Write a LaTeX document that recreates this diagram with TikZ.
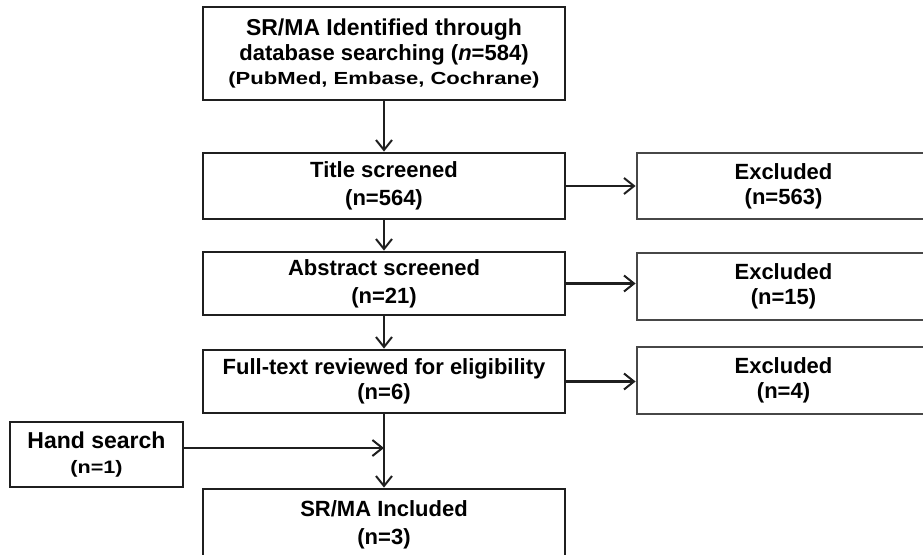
\documentclass[tikz,border=0pt]{standalone}
\usepackage{fontspec}
\usepackage{graphicx}
\setmainfont{Liberation Sans}
\usetikzlibrary{arrows.meta}
\tikzset{
  box/.style={draw=black!88, line width=2.8pt, rectangle, minimum width=362pt, align=center, inner sep=0pt,
    font=\bfseries\fontsize{22}{28}\selectfont},
  exbox/.style={box, draw=black!72, minimum width=293pt},
  arr/.style={draw=black!88, line width=2.3pt, -{Straight Barb[length=10pt,width=16pt,line width=2pt]}},
}
\begin{document}
\begin{tikzpicture}[x=1pt,y=-1pt]
\useasboundingbox (0,0) rectangle (923,554);
\clip (0,0) rectangle (923,554);
\node[box, minimum height=93pt] (b1) at (384,53.5) {{\fontsize{23}{28}\selectfont SR/MA Identified through}\\[-3pt]
database searching (\textit{n}=584)\\[-4pt]{\fontsize{17.5}{20}\selectfont\scalebox{1.26}[1]{(PubMed, Embase, Cochrane)}}};
\node[box, minimum height=66pt] (b2) at (384,186) {Title screened\\(n=564)};
\node[box, minimum height=63pt] (b3) at (384,283.5) {Abstract screened\\(n=21)};
\node[box, minimum height=63pt] (b4) at (384,381.5) {Full-text reviewed for eligibility\\[-3pt](n=6)};
\node[exbox, minimum height=66pt] (e1) at (783.5,186) {Excluded\\[-3pt](n=563)};
\node[exbox, minimum height=67pt] (e2) at (783.5,286.5) {Excluded\\[-3pt](n=15)};
\node[exbox, minimum height=67pt] (e3) at (783.5,380.5) {Excluded\\[-3pt](n=4)};
\node[box, minimum width=173pt, minimum height=65pt] (hand) at (96.5,454.5) {{\fontsize{23}{28}\selectfont Hand search}\\[-3pt]{\fontsize{18}{20}\selectfont\scalebox{1.2}[1]{(n=1)}}};
\node[box, minimum height=72pt] (fin) at (384,525) {SR/MA Included\\(n=3)};
\coordinate (hj) at (384,448);
\draw[arr] (b1.south) -- (b2.north);
\draw[arr] (b2.south) -- (b3.north);
\draw[arr] (b3.south) -- (b4.north);
\draw[arr] (b4.south) -- (fin.north);
\draw[arr] (b2.east) -- (e1.west);
\draw[arr] (b3.east) -- (b3.east -| e2.west);
\draw[arr] (b4.east) -- (b4.east -| e3.west);
\draw[arr] (hand.east |- hj) -- (hj);
\end{tikzpicture}
\end{document}
